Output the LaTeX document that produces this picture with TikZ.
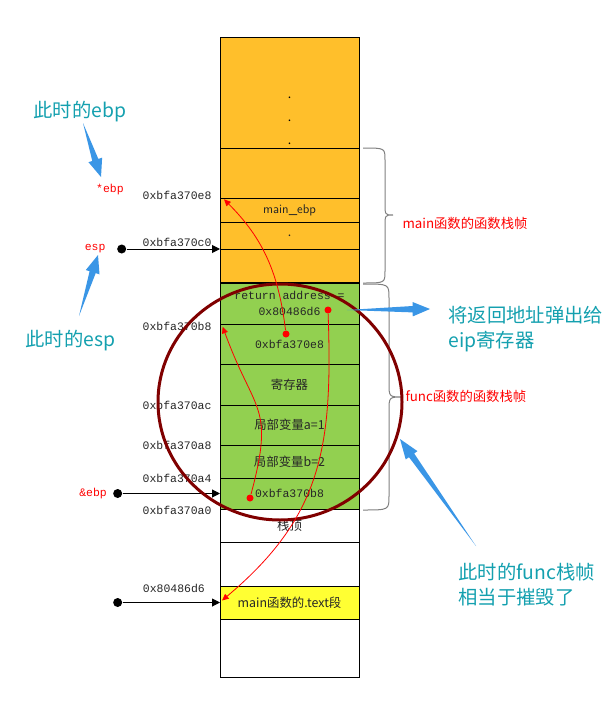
\documentclass[tikz,border=0pt]{standalone}
\usepackage{fontspec}
\setmainfont{Liberation Sans}
\setmonofont{Liberation Mono}
\newfontfamily\cjk{Noto Sans CJK SC}
\usetikzlibrary{arrows.meta, positioning, calc}

\definecolor{stackorange}{RGB}{255,191,43}
\definecolor{framegreen}{RGB}{146,208,80}
\definecolor{textyellow}{RGB}{255,255,51}
\definecolor{notecyan}{RGB}{20,160,175}
\definecolor{notearrow}{RGB}{58,150,230}
\definecolor{ringred}{RGB}{128,0,0}

\newcommand{\calloutarrow}[3]{%
  \fill[notearrow] (#1) -- ($(#2)!#3!(#1)!2.4pt!90:(#1)$) -- ($(#2)!#3!(#1)!5.4pt!90:(#1)$) -- (#2)
    -- ($(#2)!#3!(#1)!5.4pt!-90:(#1)$) -- ($(#2)!#3!(#1)!2.4pt!-90:(#1)$) -- cycle;}

\begin{document}
\begin{tikzpicture}[
    x=0.75pt, y=-0.75pt,
    line width=0.75pt,
    font=\cjk\fontsize{9.3}{12}\selectfont,
    node distance=6pt,
    cell/.style={draw, rectangle, minimum width=104.25pt, inner sep=0pt, outer sep=0pt, align=center, text=black!85},
    mono/.style={font=\ttfamily\fontsize{8.6}{12}\selectfont},
    addr/.style={mono, inner sep=0pt, text=black!85},
    reg/.style={mono, inner sep=0pt, text=red},
    note/.style={font=\cjk\fontsize{14.5}{18.75}\selectfont, text=notecyan, align=left, inner sep=0pt},
    framename/.style={font=\cjk\fontsize{10}{12}\selectfont, text=red, inner sep=0pt},
    blackdot/.style={circle, fill, inner sep=0pt, minimum size=6.75pt},
    reddot/.style={circle, fill=red, inner sep=0pt, minimum size=5.25pt},
    ptr/.style={-{Triangle[length=6pt,width=6pt]}},
    back/.style={red, line width=0.6pt, -{Triangle[length=5pt,width=4.5pt]}},
    framebrace/.style={gray, line width=0.75pt},
    ring/.style={ringred, line width=2.25pt}
]
    \useasboundingbox (0,0) rectangle (615,710);

    \node[cell, fill=stackorange, minimum height=82.5pt, anchor=north west] (upper) at (220,38) {};
    \node[cell, fill=stackorange, minimum height=37.5pt, below=0pt of upper] (mainfree) {};
    \node[cell, fill=stackorange, minimum height=18pt, below=0pt of mainfree, font=\sffamily\fontsize{9.5}{11}\selectfont] (mainebp) {main\_ebp};
    \node[cell, fill=stackorange, minimum height=20.25pt, below=0pt of mainebp] (maindots) {.};
    \node[cell, fill=stackorange, minimum height=25.5pt, below=0pt of maindots] (mainlast) {};
    \node[cell, fill=framegreen, minimum height=30.75pt, below=0pt of mainlast, mono] (retaddr) {return address =\\0x80486d6};
    \node[cell, fill=framegreen, minimum height=30pt, below=0pt of retaddr, mono] (savedebp) {0xbfa370e8};
    \node[cell, fill=framegreen, minimum height=30.75pt, below=0pt of savedebp] (regs) {寄存器};
    \node[cell, fill=framegreen, minimum height=30pt, below=0pt of regs] (vara) {局部变量a=1};
    \node[cell, fill=framegreen, minimum height=24.75pt, below=0pt of vara] (varb) {局部变量b=2};
    \node[cell, fill=framegreen, minimum height=23.25pt, below=0pt of varb, mono] (oldebp) {0xbfa370b8};
    \node[cell, minimum height=24.75pt, below=0pt of oldebp] (stacktop) {栈顶};
    \node[cell, minimum height=33pt, below=0pt of stacktop] (gap) {};
    \node[cell, fill=textyellow, minimum height=24.75pt, below=0pt of gap] (textseg) {main函数的.text段};
    \node[cell, minimum height=43.5pt, below=0pt of textseg] (bottom) {};
    \draw[line width=1.5pt] (mainlast.south west) -- (mainlast.south east);

    \node[font=\cjk\fontsize{9.3}{17.25}\selectfont, align=center, inner sep=0pt, above=2.25pt of upper.south] (ellipsis) {.\\.\\.};

    \node[addr, left=of mainebp.north west, yshift=2.25pt] (ae8) {0xbfa370e8};
    \node[addr, above left=1.5pt and 6pt of maindots.south west] (ac0) {0xbfa370c0};
    \node[addr, left=of retaddr.south west, yshift=-1.5pt] (ab8) {0xbfa370b8};
    \node[addr, left=of regs.south west] (aac) {0xbfa370ac};
    \node[addr, left=of vara.south west] (aa8) {0xbfa370a8};
    \node[addr, left=of varb.south west] (aa4) {0xbfa370a4};
    \node[addr, left=of oldebp.south west, yshift=-1pt] (aa0) {0xbfa370a0};
    \node[addr, above left=7pt and 11pt of textseg.west] (atext) {0x80486d6};

    \node[blackdot, left=70pt of maindots.south west] (espdot) {};
    \node[blackdot, left=73pt of oldebp.west] (ebpdot) {};
    \node[blackdot, left=73pt of textseg.west] (textdot) {};
    \draw[ptr] (espdot) -- (maindots.south west);
    \draw[ptr] (ebpdot) -- (oldebp.west);
    \draw[ptr] (textdot) -- (textseg.west);

    \node[reg] (starebp) at (110,190) {*ebp};
    \node[reg, left=8pt of espdot] (esp) {esp};
    \node[reg, left=4pt of ebpdot] (ampebp) {\&ebp};

    \draw[framebrace] (363,148) .. controls (385,148) .. (385,160) -- (385,203) .. controls (385,215) .. (393,215)
        .. controls (385,215) .. (385,227) -- (385,271) .. controls (385,283) .. (363,283);
    \draw[framebrace] (363,284) .. controls (389,284) .. (389,298) -- (389,383) .. controls (389,397) .. (403,397)
        .. controls (389,397) .. (389,411) -- (389,496) .. controls (389,510) .. (363,510);
    \node[framename, anchor=west] (mainframe) at (402,223) {main函数的函数栈帧};
    \node[framename, anchor=west] (funcframe) at (405,396) {func函数的函数栈帧};

    \draw[ring] (280,402) ellipse [x radius=91.5pt, y radius=88.5pt];

    \node[reddot] (d1) at (286,334) {};
    \node[reddot] (d2) at (250,498) {};
    \node[reddot] (d3) at (328,310) {};
    \draw[back] (d1) to[out=97, in=-45] ([xshift=3pt,yshift=-1pt]mainebp.north west);
    \draw[back] (d2) to[out=75, in=-70, looseness=1.4] ([xshift=2pt,yshift=-2pt]retaddr.south west);
    \draw[back] (d3) to[out=-88, in=40, looseness=1.1] ([xshift=1.5pt,yshift=1.5pt]textseg.west);

    \node[note, anchor=west] (ebpnote) at (33,112) {此时的ebp};
    \node[note, anchor=west] (espnote) at (25,341) {此时的esp};
    \node[note, anchor=west] (eipnote) at (448,329.5) {将返回地址弹出给\\eip寄存器};
    \node[note, anchor=west] (funcnote) at (458,584.5) {此时的func栈帧\\相当于摧毁了};

    \calloutarrow{83,123}{101,177}{13.5pt}
    \calloutarrow{79,316}{98,255}{13.5pt}
    \calloutarrow{347,310}{430,309}{13pt}
    \calloutarrow{476,546}{400,439}{15pt}
\end{tikzpicture}
\end{document}
